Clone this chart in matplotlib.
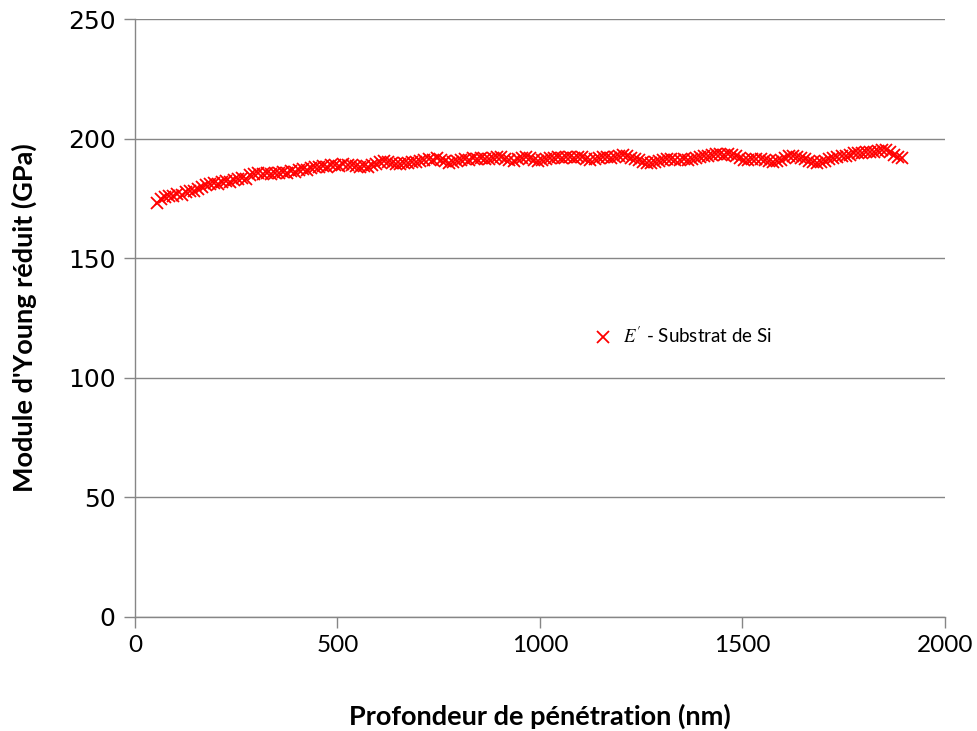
import matplotlib
matplotlib.use("Agg")
import matplotlib.pyplot as plt

# depth (nm) and reduced Young's modulus (GPa) of the Si substrate
depth = [
    55, 65, 75, 85, 95, 105, 115, 125, 135, 145,
    155, 165, 175, 185, 195, 205, 215, 225, 235, 245,
    255, 265, 275, 285, 295, 305, 315, 325, 335, 345,
    355, 365, 375, 385, 395, 405, 415, 425, 435, 445,
    455, 465, 475, 485, 495, 505, 515, 525, 535, 545,
    555, 565, 575, 585, 595, 605, 615, 625, 635, 645,
    655, 665, 675, 685, 695, 705, 715, 725, 735, 745,
    755, 765, 775, 785, 795, 805, 815, 825, 835, 845,
    855, 865, 875, 885, 895, 905, 915, 925, 935, 945,
    955, 965, 975, 985, 995, 1005, 1015, 1025, 1035, 1045,
    1055, 1065, 1075, 1085, 1095, 1105, 1115, 1125, 1135, 1145,
    1155, 1165, 1175, 1185, 1195, 1205, 1215, 1225, 1235, 1245,
    1255, 1265, 1275, 1285, 1295, 1305, 1315, 1325, 1335, 1345,
    1355, 1365, 1375, 1385, 1395, 1405, 1415, 1425, 1435, 1445,
    1455, 1465, 1475, 1485, 1495, 1505, 1515, 1525, 1535, 1545,
    1555, 1565, 1575, 1585, 1595, 1605, 1615, 1625, 1635, 1645,
    1655, 1665, 1675, 1685, 1695, 1705, 1715, 1725, 1735, 1745,
    1755, 1765, 1775, 1785, 1795, 1805, 1815, 1825, 1835, 1845,
    1855, 1865, 1875, 1885, 1895,
]
modulus = [
    173.2, 174.6, 175.5, 176.0, 175.8, 177.0, 176.4, 177.6, 178.3, 178.0,
    179.1, 179.8, 180.4, 180.9, 181.3, 181.0, 181.8, 182.2, 181.9, 182.6,
    183.1, 183.6, 183.2, 184.8, 185.3, 185.6, 185.2, 185.7, 185.4, 185.8,
    185.6, 186.1, 185.8, 186.4, 186.0, 186.8, 187.3, 186.9, 187.6, 188.2,
    188.0, 188.6, 188.3, 188.9, 189.1, 188.7, 189.2, 189.0, 188.8, 188.5,
    188.2, 188.6, 188.1, 188.9, 189.5, 190.1, 190.8, 190.4, 189.8, 189.3,
    189.5, 190.0, 189.8, 190.4, 190.1, 190.6, 190.9, 191.3, 191.0, 191.7,
    191.2, 190.5, 189.9, 190.2, 190.8, 191.0, 191.4, 191.2, 191.7, 191.5,
    191.8, 191.3, 191.6, 192.0, 192.3, 192.1, 191.5, 190.9, 190.8, 191.5,
    192.0, 192.3, 191.8, 191.2, 190.8, 191.0, 191.4, 191.7, 191.9, 192.2,
    192.0, 192.3, 192.1, 191.9, 192.4, 192.2, 191.6, 191.1, 191.3, 191.8,
    192.2, 192.5, 192.0, 192.4, 192.8, 193.1, 192.6, 192.0, 191.5, 191.0,
    190.4, 190.0, 189.8, 190.1, 190.5, 191.0, 191.6, 191.3, 190.9, 191.1,
    191.4, 191.2, 191.6, 192.0, 192.4, 192.6, 192.9, 193.3, 193.6, 193.4,
    193.2, 193.5, 193.1, 192.6, 191.9, 191.2, 191.0, 191.4, 191.6, 191.3,
    190.9, 190.6, 190.2, 190.5, 191.2, 191.9, 192.6, 192.8, 192.4, 191.9,
    191.4, 190.8, 190.3, 189.9, 190.2, 190.8, 191.5, 191.9, 192.3, 192.6,
    192.9, 193.3, 193.8, 194.1, 193.9, 194.3, 194.6, 194.4, 194.9, 195.2,
    195.4, 194.6, 193.2, 192.1, 191.8,
]

x_ticks = [0, 500, 1000, 1500, 2000]
y_ticks = [0, 50, 100, 150, 200, 250]

plt.rcParams["mathtext.fontset"] = "stix"
GRAY = "#868686"

fig = plt.figure(figsize=(9.78, 7.31), dpi=100)
ax = fig.add_axes([0.138, 0.156, 0.828, 0.818])

ax.plot(depth, modulus, linestyle="none", marker="x", color="#ff0000",
        markersize=8, markeredgewidth=1.3,
        label=r"$E^{\prime}$ - Substrat de Si")

ax.set_xlim(0, 2000)
ax.set_ylim(0, 250)
ax.set_xticks(x_ticks)
ax.set_yticks(y_ticks)
ax.grid(axis="y", color=GRAY, linewidth=1.0)
ax.set_axisbelow(True)

for s in ["top", "right"]:
    ax.spines[s].set_visible(False)
for s in ["left", "bottom"]:
    ax.spines[s].set_color(GRAY)
    ax.spines[s].set_linewidth(1.0)

ax.tick_params(axis="both", direction="out", color=GRAY, length=8, width=1.0)
ax.tick_params(axis="x", pad=5)
ax.tick_params(axis="y", pad=6)
for lab in ax.get_xticklabels():
    lab.set_fontfamily("Lato")
    lab.set_fontsize(17.5)
for lab in ax.get_yticklabels():
    lab.set_fontfamily("DejaVu Sans")
    lab.set_fontsize(18)

ax.set_xlabel("Profondeur de pénétration (nm)", fontfamily="Lato",
              fontweight="bold", fontsize=19.5, labelpad=34)
ax.set_ylabel("Module d'Young réduit (GPa)", fontfamily="Lato",
              fontweight="bold", fontsize=19.5, labelpad=22)

leg = ax.legend(loc="center left", bbox_to_anchor=(0.545, 0.47),
                frameon=False, handlelength=1.0, handletextpad=0.6,
                prop={"family": "Lato", "size": 13.5})

fig.savefig("out.png", dpi=100)
